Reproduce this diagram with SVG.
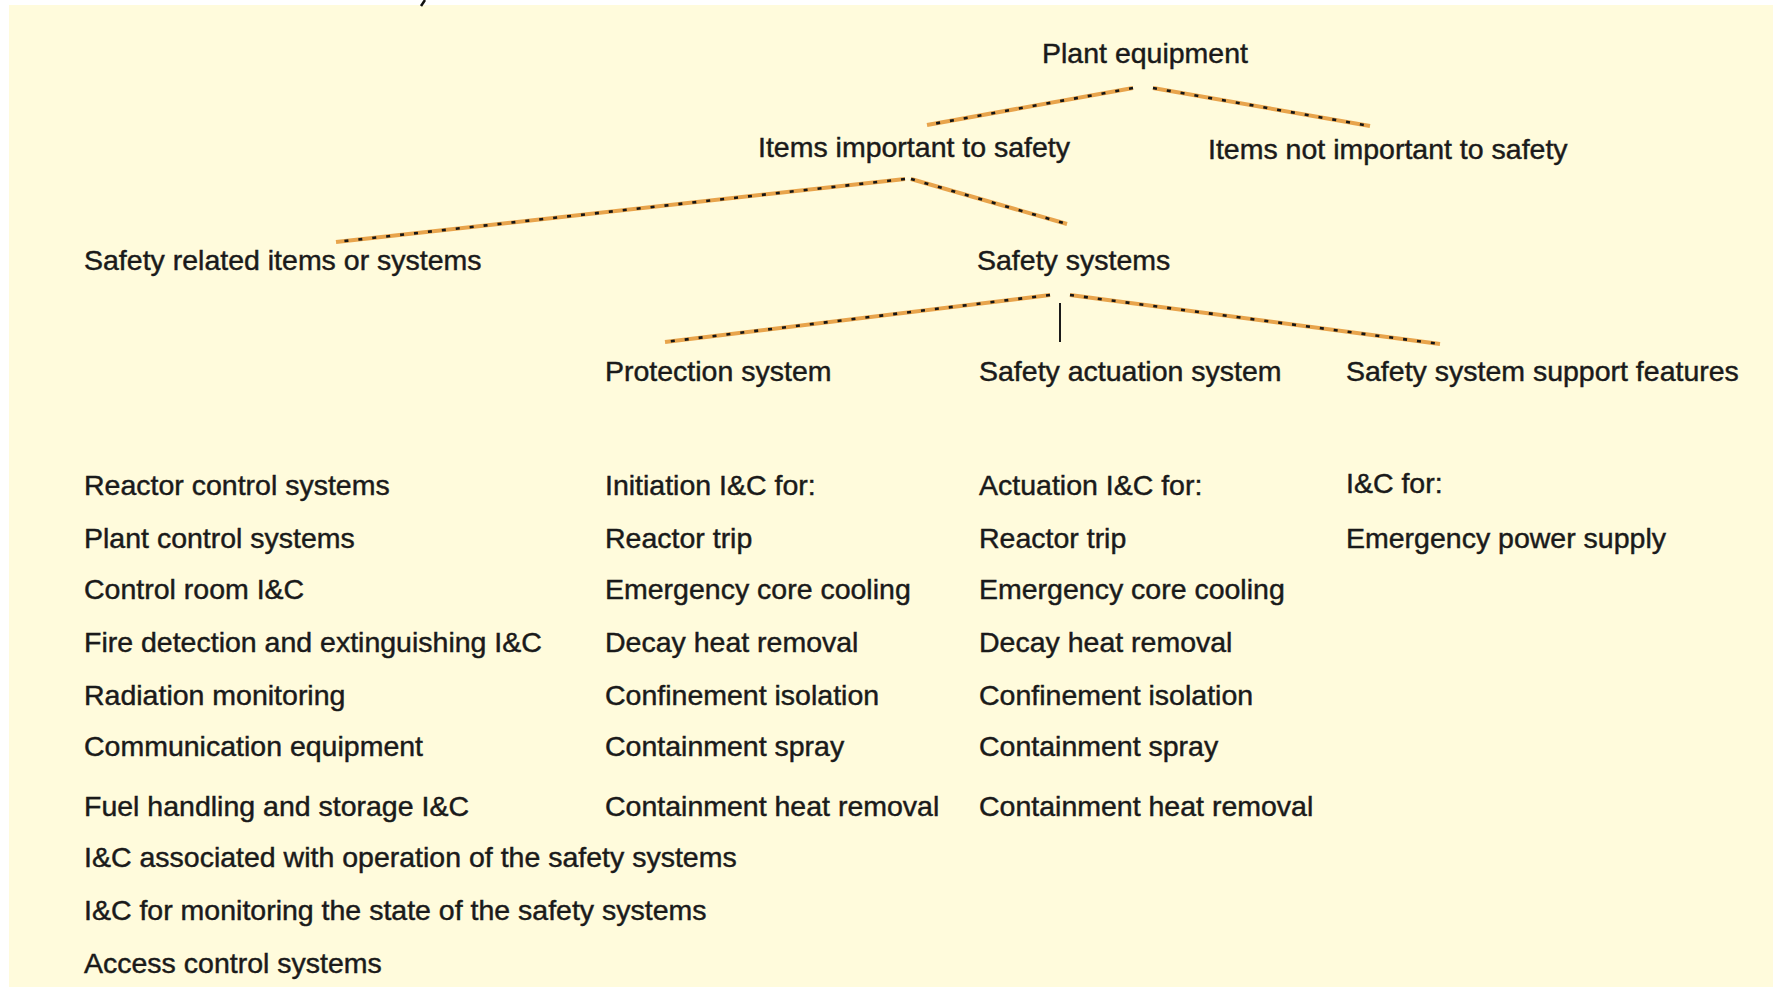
<svg xmlns="http://www.w3.org/2000/svg" width="1773" height="988" viewBox="0 0 1773 988">
<style>
text{font-family:"Liberation Sans",Arial,sans-serif;font-size:28.5px;fill:#1a1a1a;stroke:#1a1a1a;stroke-width:0.45px}
.base{stroke:#e8a44c;stroke-width:4;fill:none}
.dash{stroke:#151515;stroke-width:2.6;fill:none;stroke-dasharray:4 10}
.solid{stroke:#1a1a1a;stroke-width:2;fill:none}
</style>
<rect x="0" y="0" width="1773" height="988" fill="#ffffff"/>
<rect x="9" y="5" width="1764" height="982" fill="#fffbdc"/>
<path d="M425 0 L421 6" stroke="#111" stroke-width="2.5"/>
<g id="connectors">
<g class="base">
<line x1="1133" y1="88" x2="927" y2="125"/>
<line x1="1153" y1="88" x2="1370" y2="126"/>
<line x1="905" y1="179" x2="336" y2="242"/>
<line x1="911" y1="179" x2="1067" y2="224"/>
<line x1="1050" y1="295" x2="665" y2="342"/>
<line x1="1070" y1="295" x2="1440" y2="344"/>
</g>
<g class="dash">
<line x1="1133" y1="88" x2="927" y2="125"/>
<line x1="1153" y1="88" x2="1370" y2="126"/>
<line x1="905" y1="179" x2="336" y2="242"/>
<line x1="911" y1="179" x2="1067" y2="224"/>
<line x1="1050" y1="295" x2="665" y2="342"/>
<line x1="1070" y1="295" x2="1440" y2="344"/>
</g>
<line class="solid" x1="1060" y1="303" x2="1060" y2="342"/>
</g>
<g id="plant-equipment"><text x="1042" y="63">Plant equipment</text></g>
<g id="items-important"><text x="758" y="157">Items important to safety</text></g>
<g id="items-not-important"><text x="1208" y="159">Items not important to safety</text></g>
<g id="safety-related"><text x="84" y="270">Safety related items or systems</text></g>
<g id="safety-systems"><text x="977" y="270">Safety systems</text></g>
<g id="protection-system"><text x="605" y="381">Protection system</text></g>
<g id="safety-actuation"><text x="979" y="381">Safety actuation system</text></g>
<g id="support-features"><text x="1346" y="381">Safety system support features</text></g>
<g id="list-safety-related">
<text x="84" y="495">Reactor control systems</text>
<text x="84" y="548">Plant control systems</text>
<text x="84" y="599">Control room I&amp;C</text>
<text x="84" y="652">Fire detection and extinguishing I&amp;C</text>
<text x="84" y="705">Radiation monitoring</text>
<text x="84" y="756">Communication equipment</text>
<text x="84" y="816">Fuel handling and storage I&amp;C</text>
<text x="84" y="867">I&amp;C associated with operation of the safety systems</text>
<text x="84" y="920">I&amp;C for monitoring the state of the safety systems</text>
<text x="84" y="973">Access control systems</text>
</g>
<g id="list-protection">
<text x="605" y="495">Initiation I&amp;C for:</text>
<text x="605" y="548">Reactor trip</text>
<text x="605" y="599">Emergency core cooling</text>
<text x="605" y="652">Decay heat removal</text>
<text x="605" y="705">Confinement isolation</text>
<text x="605" y="756">Containment spray</text>
<text x="605" y="816">Containment heat removal</text>
</g>
<g id="list-actuation">
<text x="979" y="495">Actuation I&amp;C for:</text>
<text x="979" y="548">Reactor trip</text>
<text x="979" y="599">Emergency core cooling</text>
<text x="979" y="652">Decay heat removal</text>
<text x="979" y="705">Confinement isolation</text>
<text x="979" y="756">Containment spray</text>
<text x="979" y="816">Containment heat removal</text>
</g>
<g id="list-support">
<text x="1346" y="493">I&amp;C for:</text>
<text x="1346" y="548">Emergency power supply</text>
</g>
</svg>
